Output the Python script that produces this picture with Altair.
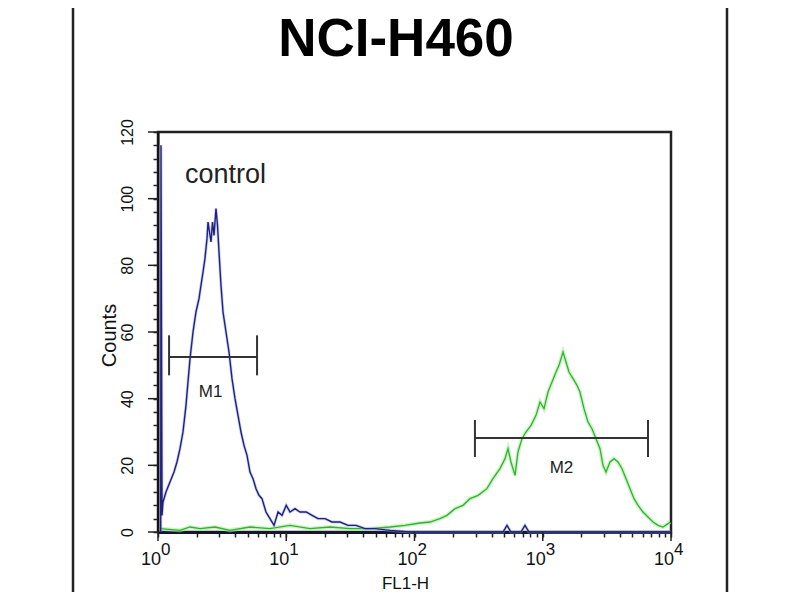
import altair as alt
import pandas as pd

FONT = "Liberation Sans"

# ---- data ----
blue_x = [1.05, 1.055, 1.075, 1.094, 1.154, 1.24, 1.333, 1.406, 1.484, 1.566, 1.653, 1.713,
          1.777, 1.875, 1.977, 2.088, 2.163, 2.244, 2.323, 2.41, 2.455, 2.521, 2.59, 2.661,
          2.733, 2.832, 2.91, 2.99, 3.098, 3.213, 3.39, 3.578, 3.776, 3.985, 4.206, 4.437,
          4.684, 4.943, 5.217, 5.505, 5.81, 6.13, 6.47, 6.95, 7.47, 8.03, 8.63, 9.27, 10.0,
          10.7, 11.7, 12.8, 14.3, 15.9, 17.7, 20.1, 22.7, 26.3, 30.3, 35.0, 41.1, 49.2, 64.4,
          92.3, 324, 490, 526, 565, 676, 727, 781, 10000]
blue_y = [0, 116, 5, 9, 12, 15, 18, 21, 25, 30, 38, 45,
          52, 60, 66, 70, 74, 78, 82, 88, 93, 90, 87, 93,
          89, 97, 92, 84, 74, 66, 60, 54, 46, 40, 35, 30,
          26, 23, 18, 16, 13, 11, 10, 6, 4, 2, 6, 5, 8,
          6, 7, 6, 6, 5, 4, 4, 3, 3, 2, 2, 1, 1, 0.5,
          0, 0, 0, 2, 0, 0, 2, 0, 0]

green_x = [1.037, 1.484, 1.777, 2.126, 2.783, 3.64, 5.217, 7.47, 10.7, 15.3, 21.9, 31.4, 45.0,
           64.4, 84.3, 110.4, 132, 158, 179, 207, 239, 271, 313, 367, 409, 464, 508, 536, 565,
           608, 641, 689, 740, 810, 886, 952, 1023, 1099, 1181, 1269, 1339, 1439, 1518, 1602,
           1722, 1849, 1950, 2097, 2253, 2421, 2601, 2795, 2949, 3112, 3344, 3594, 3862, 4150,
           4459, 4791, 5148, 5532, 6050, 6620, 7240, 7918, 8660, 9480, 9830]
green_y = [1, 0.5, 1.5, 1, 1.5, 0.5, 1.5, 1, 2, 1, 1.5, 1, 1,
           1.5, 2, 2.7, 3, 4, 5, 7, 8, 10, 11, 13, 16, 19, 22, 25, 21,
           17, 24, 28, 30, 32, 35, 39, 37, 42, 45, 48, 50, 54, 51, 48,
           46, 44, 42, 37, 33, 31, 28, 25, 20, 18, 21, 22, 21, 19,
           16, 13, 10, 8, 6, 4.5, 3, 2, 1.5, 2.5, 3]

marker_names = ["M1", "M2"]
marker_start = [1.22, 296]
marker_end = [5.92, 6620]
marker_level = [52.5, 28.2]
marker_low = [47, 22.5]
marker_high = [59, 33.6]
marker_label_x = [2.57, 1400]
marker_label_y = [40.5, 17.7]

control_text = ["control"]
control_x = [3.36]
control_y = [104.7]

title_text = "NCI-H460"
x_title = "FL1-H"
y_title = "Counts"

x_decades = [1, 10, 100, 1000, 10000]
x_exponents = ["0", "1", "2", "3", "4"]
x_tick_values = [1, 2, 3, 4, 5, 6, 7, 8, 9,
                 10, 20, 30, 40, 50, 60, 70, 80, 90,
                 100, 200, 300, 400, 500, 600, 700, 800, 900,
                 1000, 2000, 3000, 4000, 5000, 6000, 7000, 8000, 9000, 10000]
y_major = [0, 20, 40, 60, 80, 100, 120]
y_tick_values = [0, 4, 8, 12, 16, 20, 24, 28, 32, 36, 40, 44, 48, 52, 56, 60, 64, 68, 72,
                 76, 80, 84, 88, 92, 96, 100, 104, 108, 112, 116, 120]

# ---- tables ----
blue_df = pd.DataFrame({"x": blue_x, "y": blue_y, "i": list(range(len(blue_x)))})
green_df = pd.DataFrame({"x": green_x, "y": green_y, "i": list(range(len(green_x)))})
mark_h = pd.DataFrame({"x": marker_start, "x2": marker_end, "y": marker_level})
mark_v = pd.DataFrame({"x": marker_start + marker_end,
                       "y": marker_low + marker_low,
                       "y2": marker_high + marker_high})
mark_lab = pd.DataFrame({"x": marker_label_x, "y": marker_label_y, "t": marker_names})
ctrl_df = pd.DataFrame({"x": control_x, "y": control_y, "t": control_text})
dec_df = pd.DataFrame({"x": x_decades, "e": x_exponents, "b": ["10"] * len(x_decades)})
ymaj_df = pd.DataFrame({"y": y_major})
one = pd.DataFrame({"t": [title_text]})

xscale = alt.Scale(type="log", domain=[1, 10000], nice=False)
yscale = alt.Scale(domain=[0, 120], nice=False, zero=True)

xaxis = alt.Axis(values=x_tick_values, labels=False, tickSize=5, tickWidth=1.5,
                 tickColor="#222222", domainColor="#15153a", domainWidth=3, grid=False,
                 title=x_title, titleFont=FONT, titleFontSize=17, titleFontWeight="normal",
                 titleColor="#111111", titleX=247, titleY=56, titleAlign="center",
                 titleBaseline="alphabetic", titleAngle=0)
yaxis = alt.Axis(values=y_tick_values, tickSize=5, tickWidth=1.5, tickColor="#222222",
                 domainColor="#111111", domainWidth=2, grid=False,
                 labelExpr="datum.value % 20 == 0 ? datum.label : ''",
                 labelAngle=270, labelAlign="center", labelBaseline="bottom",
                 labelPadding=18, labelFont=FONT, labelFontSize=16, labelColor="#111111",
                 title=y_title, titleFont=FONT, titleFontSize=20, titleFontWeight="normal",
                 titleColor="#111111", titleAngle=270, titleX=-49, titleY=203,
                 titleAlign="center", titleBaseline="middle")


def X(f="x"):
    return alt.X(f, type="quantitative", scale=xscale, axis=xaxis)


def Y(f="y"):
    return alt.Y(f, type="quantitative", scale=yscale, axis=yaxis)


frame = alt.Chart(pd.DataFrame({"p": [-85, 569]})).mark_rule(
    color="#222222", strokeWidth=2.5).encode(
    x=alt.X("p:Q", scale=None), y=alt.value(-124), y2=alt.value(460))

green_halo = alt.Chart(green_df).mark_line(color="#a8ee9e", strokeWidth=4, opacity=0.6).encode(
    x=X(), y=Y(), order=alt.Order("i:Q"))
green_line = alt.Chart(green_df).mark_line(color="#33b033", strokeWidth=1.3).encode(
    x=X(), y=Y(), order=alt.Order("i:Q"))
blue_halo = alt.Chart(blue_df).mark_line(color="#9aa6e8", strokeWidth=3, opacity=0.5).encode(
    x=X(), y=Y(), order=alt.Order("i:Q"))
blue_line = alt.Chart(blue_df).mark_line(color="#20207e", strokeWidth=1.4).encode(
    x=X(), y=Y(), order=alt.Order("i:Q"))

m_h = alt.Chart(mark_h).mark_rule(color="#333333", strokeWidth=2).encode(
    x=X(), x2="x2", y=Y())
m_v = alt.Chart(mark_v).mark_rule(color="#333333", strokeWidth=2).encode(
    x=X(), y=Y(), y2="y2")
m_t = alt.Chart(mark_lab).mark_text(font=FONT, fontSize=17, color="#222222",
                                    align="center", baseline="alphabetic").encode(
    x=X(), y=Y(), text="t")
c_t = alt.Chart(ctrl_df).mark_text(font=FONT, fontSize=27, color="#222222",
                                   align="center", baseline="alphabetic").encode(
    x=X(), y=Y(), text="t")

x_major = alt.Chart(dec_df).mark_rule(color="#222222", strokeWidth=1.5).encode(
    x=X(), y=alt.value(400), y2=alt.value(409))
y_major_t = alt.Chart(ymaj_df).mark_rule(color="#222222", strokeWidth=1.5).encode(
    y=Y(), x=alt.value(-10), x2=alt.value(0))

x_lab_base = alt.Chart(dec_df).mark_text(font=FONT, fontSize=18, color="#111111",
                                         align="right", baseline="alphabetic", dx=3).encode(
    x=X(), y=alt.value(433), text="b")
x_lab_exp = alt.Chart(dec_df).mark_text(font=FONT, fontSize=17, color="#111111",
                                        align="left", baseline="alphabetic", dx=3).encode(
    x=X(), y=alt.value(423), text="e")

title = alt.Chart(one).mark_text(font=FONT, fontSize=53, fontWeight="bold", color="#000000",
                                 align="center", baseline="alphabetic").encode(
    x=alt.value(238), y=alt.value(-76), text="t")

chart = alt.layer(
    frame, green_halo, green_line, blue_halo, blue_line, m_h, m_v, m_t, c_t,
    x_major, y_major_t, x_lab_base, x_lab_exp, title
).properties(
    width=513, height=400,
    padding={"left": 150, "top": 124, "right": 121, "bottom": 68},
    autosize=alt.AutoSizeParams(type="none"),
    background="white",
).configure_view(stroke="#222222", strokeWidth=2.5)

chart.save("out.html", embed_options={"renderer": "svg", "actions": False})
